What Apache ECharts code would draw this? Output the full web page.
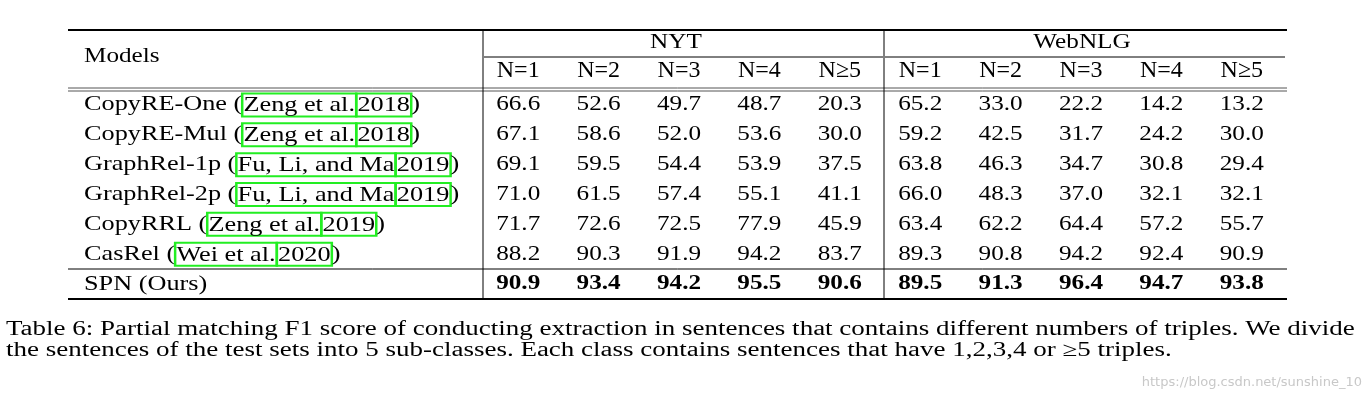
<!DOCTYPE html>
<html>
<head>
<meta charset="utf-8">
<script src="https://cdn.jsdelivr.net/npm/echarts@6/dist/echarts.min.js"></script>
<style>html,body{margin:0;padding:0;background:#fff}#main{width:1367px;height:403px}</style>
</head>
<body>
<div id="main"></div>
<script>
// table content
const columns = ['N=1', 'N=2', 'N=3', 'N=4', 'N≥5', 'N=1', 'N=2', 'N=3', 'N=4', 'N≥5'];
const models = [
  'CopyRE-One ({c|Zeng et al.}{c|2018})',
  'CopyRE-Mul ({c|Zeng et al.}{c|2018})',
  'GraphRel-1p ({c|Fu, Li, and Ma}{c|2019})',
  'GraphRel-2p ({c|Fu, Li, and Ma}{c|2019})',
  'CopyRRL ({c|Zeng et al.}{c|2019})',
  'CasRel ({c|Wei et al.}{c|2020})',
  'SPN (Ours)'
];
const copyreOne  = [66.6, 52.6, 49.7, 48.7, 20.3, 65.2, 33.0, 22.2, 14.2, 13.2];
const copyreMul  = [67.1, 58.6, 52.0, 53.6, 30.0, 59.2, 42.5, 31.7, 24.2, 30.0];
const graphrel1p = [69.1, 59.5, 54.4, 53.9, 37.5, 63.8, 46.3, 34.7, 30.8, 29.4];
const graphrel2p = [71.0, 61.5, 57.4, 55.1, 41.1, 66.0, 48.3, 37.0, 32.1, 32.1];
const copyrrl    = [71.7, 72.6, 72.5, 77.9, 45.9, 63.4, 62.2, 64.4, 57.2, 55.7];
const casrel     = [88.2, 90.3, 91.9, 94.2, 83.7, 89.3, 90.8, 94.2, 92.4, 90.9];
const spn        = [90.9, 93.4, 94.2, 95.5, 90.6, 89.5, 91.3, 96.4, 94.7, 93.8];
const rows = [copyreOne, copyreMul, graphrel1p, graphrel2p, copyrrl, casrel, spn];

const cells = [];
rows.forEach((r, ri) => r.forEach((v, ci) => cells.push([ci, ri, v])));
const modelCells = models.map((m, i) => [0, i]);

const FONT = '"Liberation Serif", "DejaVu Serif", serif';
const chart = echarts.init(document.getElementById('main'));

function hline(y, x1, x2, w, c) {
  return { type: 'line', shape: { x1: x1, y1: y, x2: x2, y2: y }, style: { stroke: c || '#000', lineWidth: w } };
}
function vline(x, y1, y2) {
  return { type: 'line', shape: { x1: x, y1: y1, x2: x, y2: y2 }, style: { stroke: '#000', lineWidth: 1 } };
}
function txt(x, y, s, sx, opts) {
  return { type: 'text', x: x, y: y, scaleX: sx, style: Object.assign({ text: s, font: '21px ' + FONT, fill: '#000', textVerticalAlign: 'middle' }, opts || {}) };
}

chart.setOption({
  animation: false,
  grid: { left: 478, top: 90, width: 804, height: 209 },
  xAxis: {
    type: 'category', data: columns, position: 'top',
    axisLine: { show: false }, axisTick: { show: false },
    axisLabel: { fontFamily: FONT, fontSize: 24, color: '#000', margin: 7 }
  },
  yAxis: {
    type: 'category', data: models, inverse: true,
    axisLine: { show: false }, axisTick: { show: false }, axisLabel: { show: false }
  },
  series: [{
    type: 'custom',
    data: cells,
    renderItem: function (params, api) {
      const p = api.coord([api.value(0), api.value(1)]);
      const bold = api.value(1) === rows.length - 1;
      return {
        type: 'text', x: p[0], y: p[1], scaleX: 1.2,
        style: {
          text: api.value(2).toFixed(1), fill: '#000',
          font: (bold ? 'bold ' : '') + '21px ' + FONT,
          textAlign: 'center', textVerticalAlign: 'middle'
        }
      };
    }
  }, {
    type: 'custom',
    data: modelCells,
    renderItem: function (params, api) {
      const p = api.coord([api.value(0), api.value(1)]);
      return {
        type: 'text', x: 84, y: p[1], scaleX: 1.25,
        style: {
          text: models[params.dataIndex], fill: '#000', font: '21px ' + FONT,
          textVerticalAlign: 'middle',
          rich: { c: { fontFamily: FONT, fontSize: 21, color: '#000', borderColor: '#22ee22', borderWidth: 2, padding: [2, 1, 0, 1] } }
        }
      };
    }
  }],
  graphic: [
    hline(30, 68, 1287, 2),
    hline(57, 484, 883, 1), hline(57, 885, 1285, 1),
    hline(88, 68, 1287, 1, '#555'), hline(91, 68, 1287, 1, '#555'),
    hline(269, 68, 1287, 1),
    hline(299, 68, 1287, 2),
    vline(483, 30, 299), vline(884, 30, 299),
    txt(84, 56, 'Models', 1.2),
    txt(676, 42, 'NYT', 1.2, { textAlign: 'center' }),
    txt(1082, 42, 'WebNLG', 1.2, { textAlign: 'center' }),
    txt(6, 330, 'Table 6: Partial matching F1 score of conducting extraction in sentences that contains different numbers of triples. We divide', 1.35, { font: '20px ' + FONT }),
    txt(6, 351, 'the sentences of the test sets into 5 sub-classes. Each class contains sentences that have 1,2,3,4 or ≥5 triples.', 1.35, { font: '20px ' + FONT }),
    txt(1362, 383, 'https://blog.csdn.net/sunshine_10', 1, { textAlign: 'right', font: '13px "DejaVu Sans", sans-serif', fill: '#c8c8c8' })
  ]
});
</script>
</body>
</html>
